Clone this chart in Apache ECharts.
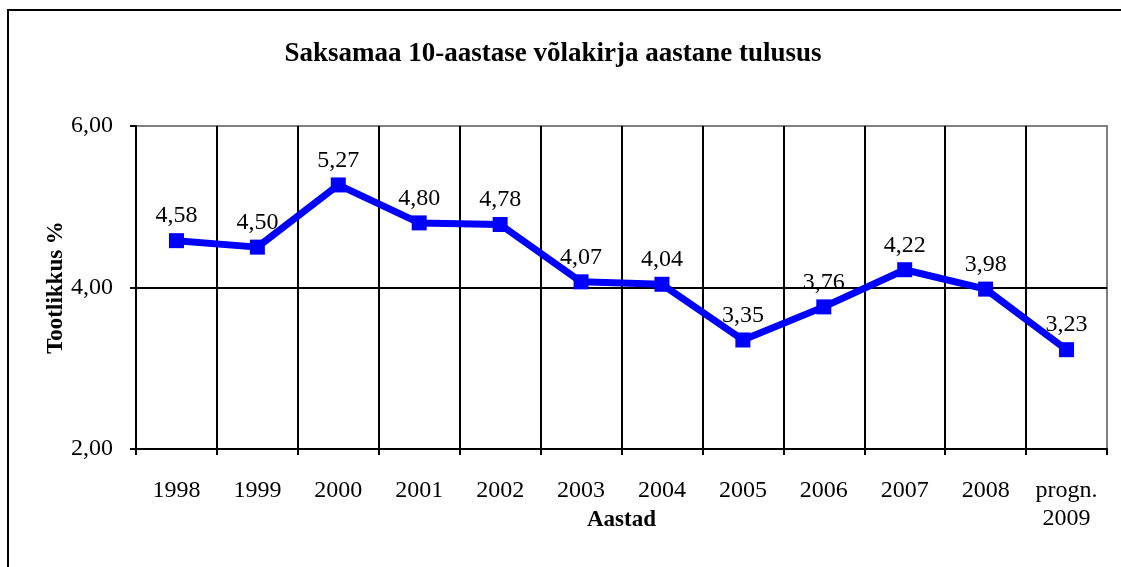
<!DOCTYPE html>
<html>
<head>
<meta charset="utf-8">
<script src="https://cdn.jsdelivr.net/npm/echarts@6/dist/echarts.min.js"></script>
<style>
  html, body { margin: 0; padding: 0; background: #fff; }
  #chart { width: 1121px; height: 567px; }
</style>
</head>
<body>
<div id="chart"></div>
<script>
const years = ["1998", "1999", "2000", "2001", "2002", "2003", "2004", "2005", "2006", "2007", "2008", "progn.\n2009"]
const yields = [4.58, 4.50, 5.27, 4.80, 4.78, 4.07, 4.04, 3.35, 3.76, 4.22, 3.98, 3.23]
const yTicks = [2, 4, 6]

const font = "'Liberation Serif', 'Times New Roman', serif"
const fmt = (v) => v.toFixed(2).replace(".", ",")

const chart = echarts.init(document.getElementById("chart"))

chart.setOption({
  animation: false,
  textStyle: { fontFamily: font, color: "#000" },
  title: {
    text: "Saksamaa 10-aastase võlakirja aastane tulusus",
    left: 548,
    top: 36,
    textAlign: "center",
    textStyle: { fontFamily: font, fontSize: 27, fontWeight: "bold", color: "#000" },
  },
  graphic: [
    {
      type: "rect",
      shape: { x: 8, y: 10, width: 1200, height: 620 },
      style: { fill: "none", stroke: "#000", lineWidth: 2 },
      silent: true,
    },
  ],
  grid: {
    left: 136,
    right: 14,
    top: 126,
    bottom: 118,
    show: true,
    borderColor: "#808080",
    borderWidth: 2,
  },
  xAxis: {
    type: "category",
    data: years,
    boundaryGap: true,
    name: "Aastad",
    nameLocation: "middle",
    nameMoveOverlap: false,
    nameGap: 60,
    nameTextStyle: { fontFamily: font, fontSize: 23, fontWeight: "bold", color: "#000" },
    axisLine: { lineStyle: { color: "#000", width: 2 } },
    axisTick: { show: true, length: 6, lineStyle: { color: "#000", width: 2 } },
    axisLabel: { fontFamily: font, fontSize: 24, color: "#000", margin: 28, lineHeight: 28 },
    splitLine: { show: true, showMaxLine: false, lineStyle: { color: "#000", width: 2 } },
  },
  yAxis: {
    type: "value",
    min: yTicks[0],
    max: yTicks[yTicks.length - 1],
    interval: 2,
    name: "Tootlikkus %",
    nameLocation: "middle",
    nameMoveOverlap: false,
    nameGap: 68,
    nameTextStyle: { fontFamily: font, fontSize: 23, fontWeight: "bold", color: "#000" },
    axisLine: { show: true, lineStyle: { color: "#000", width: 2 } },
    axisTick: { show: true, length: 6, lineStyle: { color: "#000", width: 2 } },
    axisLabel: { fontFamily: font, fontSize: 24, color: "#000", margin: 23, formatter: fmt },
    splitLine: { show: true, showMaxLine: false, lineStyle: { color: "#000", width: 2 } },
  },
  series: [
    {
      type: "line",
      data: yields,
      symbol: "rect",
      symbolSize: 15,
      lineStyle: { color: "#0000ff", width: 7 },
      itemStyle: { color: "#0000ff" },
      label: {
        show: true,
        position: "top",
        distance: 5,
        fontFamily: font,
        fontSize: 24,
        color: "#000",
        formatter: (p) => fmt(p.value),
      },
    },
  ],
})
</script>
</body>
</html>
